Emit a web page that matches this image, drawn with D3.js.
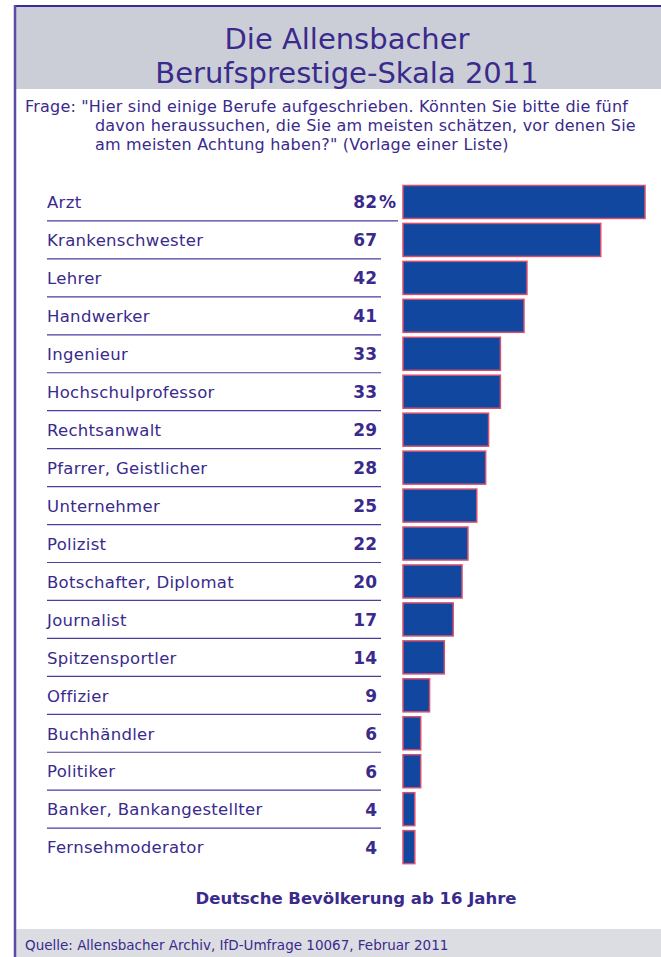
<!DOCTYPE html>
<html>
<head>
<meta charset="utf-8">
<script src="https://cdnjs.cloudflare.com/ajax/libs/d3/7.8.5/d3.min.js"></script>
<style>
  body { margin: 0; background: #fff; }
  text { font-family: "DejaVu Sans", sans-serif; fill: #3a2a8c; }
</style>
</head>
<body>
<script>
// data
const jobs = ["Arzt", "Krankenschwester", "Lehrer", "Handwerker", "Ingenieur",
  "Hochschulprofessor", "Rechtsanwalt", "Pfarrer, Geistlicher", "Unternehmer",
  "Polizist", "Botschafter, Diplomat", "Journalist", "Spitzensportler", "Offizier",
  "Buchhändler", "Politiker", "Banker, Bankangestellter", "Fernsehmoderator"];
const values = [82, 67, 42, 41, 33, 33, 29, 28, 25, 22, 20, 17, 14, 9, 6, 6, 4, 4];
const titleLines = ["Die Allensbacher", "Berufsprestige-Skala 2011"];
const questionLines = [
  "Frage: \"Hier sind einige Berufe aufgeschrieben. Könnten Sie bitte die fünf",
  "davon heraussuchen, die Sie am meisten schätzen, vor denen Sie",
  "am meisten Achtung haben?\" (Vorlage einer Liste)"
];
const baseText = "Deutsche Bevölkerung ab 16 Jahre";
const sourceText = "Quelle: Allensbacher Archiv, IfD-Umfrage 10067, Februar 2011";

const width = 661, height = 957;

const svg = d3.select("body").append("svg")
  .attr("width", width)
  .attr("height", height);

// header + frame
svg.append("rect")
  .attr("x", 15).attr("y", 6)
  .attr("width", width - 15).attr("height", 83)
  .attr("fill", "#cbced7");

svg.append("rect")
  .attr("x", 15).attr("y", 929)
  .attr("width", width - 15).attr("height", 28)
  .attr("fill", "#dcdde3");

svg.append("line")
  .attr("x1", 14).attr("x2", width)
  .attr("y1", 6).attr("y2", 6)
  .attr("stroke", "#3b2a9a").attr("stroke-width", 2);

svg.append("line")
  .attr("x1", 15).attr("x2", 15)
  .attr("y1", 5).attr("y2", height)
  .attr("stroke", "#5c4aa6").attr("stroke-width", 2.5);

// title
svg.selectAll("text.title")
  .data(titleLines)
  .enter().append("text")
  .attr("class", "title")
  .attr("x", 347)
  .attr("y", (d, i) => 49 + i * 34)
  .attr("text-anchor", "middle")
  .style("font-size", "29px")
  .text(d => d);

// question
svg.selectAll("text.q")
  .data(questionLines)
  .enter().append("text")
  .attr("class", "q")
  .attr("x", (d, i) => i === 0 ? 25 : 95)
  .attr("y", (d, i) => 112 + i * 19)
  .style("font-size", "16px")
  .style("letter-spacing", "0.2px")
  .text(d => d);

// scales
const y = d3.scaleBand()
  .domain(jobs)
  .range([183, 183 + jobs.length * 37.95])
  .paddingInner(0.13)
  .paddingOuter(0.065);

const x = d3.scaleLinear()
  .domain([0, 82])
  .range([403, 645]);

const rows = jobs.map((j, i) => ({ job: j, value: values[i], i: i }));

// separators
svg.selectAll("line.sep")
  .data(rows.slice(0, -1))
  .enter().append("line")
  .attr("class", "sep")
  .attr("x1", 47)
  .attr("x2", d => d.i === 0 ? 398 : 381)
  .attr("y1", d => y(d.job) + y.bandwidth() + y.step() * 0.065)
  .attr("y2", d => y(d.job) + y.bandwidth() + y.step() * 0.065)
  .attr("stroke", "#4b3d9c")
  .attr("stroke-width", 1.2);

// bars
svg.selectAll("rect.bar")
  .data(rows)
  .enter().append("rect")
  .attr("class", "bar")
  .attr("x", x(0))
  .attr("y", d => y(d.job))
  .attr("width", d => x(d.value) - x(0))
  .attr("height", y.bandwidth())
  .attr("fill", "#1247a0")
  .attr("stroke", "#d5506f")
  .attr("stroke-width", 1.5);

// labels
svg.selectAll("text.label")
  .data(rows)
  .enter().append("text")
  .attr("class", "label")
  .attr("x", 47)
  .attr("y", d => y(d.job) + y.bandwidth() / 2)
  .attr("dy", "0.38em")
  .style("font-size", "16.5px")
  .style("letter-spacing", "0.3px")
  .text(d => d.job);

// values
svg.selectAll("text.val")
  .data(rows)
  .enter().append("text")
  .attr("class", "val")
  .attr("x", 377)
  .attr("y", d => y(d.job) + y.bandwidth() / 2)
  .attr("dy", "0.38em")
  .attr("text-anchor", "end")
  .style("font-size", "17px")
  .style("font-weight", "bold")
  .text(d => d.value);

svg.append("text")
  .attr("x", 379)
  .attr("y", y(jobs[0]) + y.bandwidth() / 2)
  .attr("dy", "0.38em")
  .style("font-size", "17px")
  .style("font-weight", "bold")
  .text("%");

// base note and source
svg.append("text")
  .attr("x", 356)
  .attr("y", 904)
  .attr("text-anchor", "middle")
  .style("font-size", "16.5px")
  .style("font-weight", "bold")
  .text(baseText);

svg.append("text")
  .attr("x", 25)
  .attr("y", 950)
  .style("font-size", "13.5px")
  .text(sourceText);
</script>
</body>
</html>
